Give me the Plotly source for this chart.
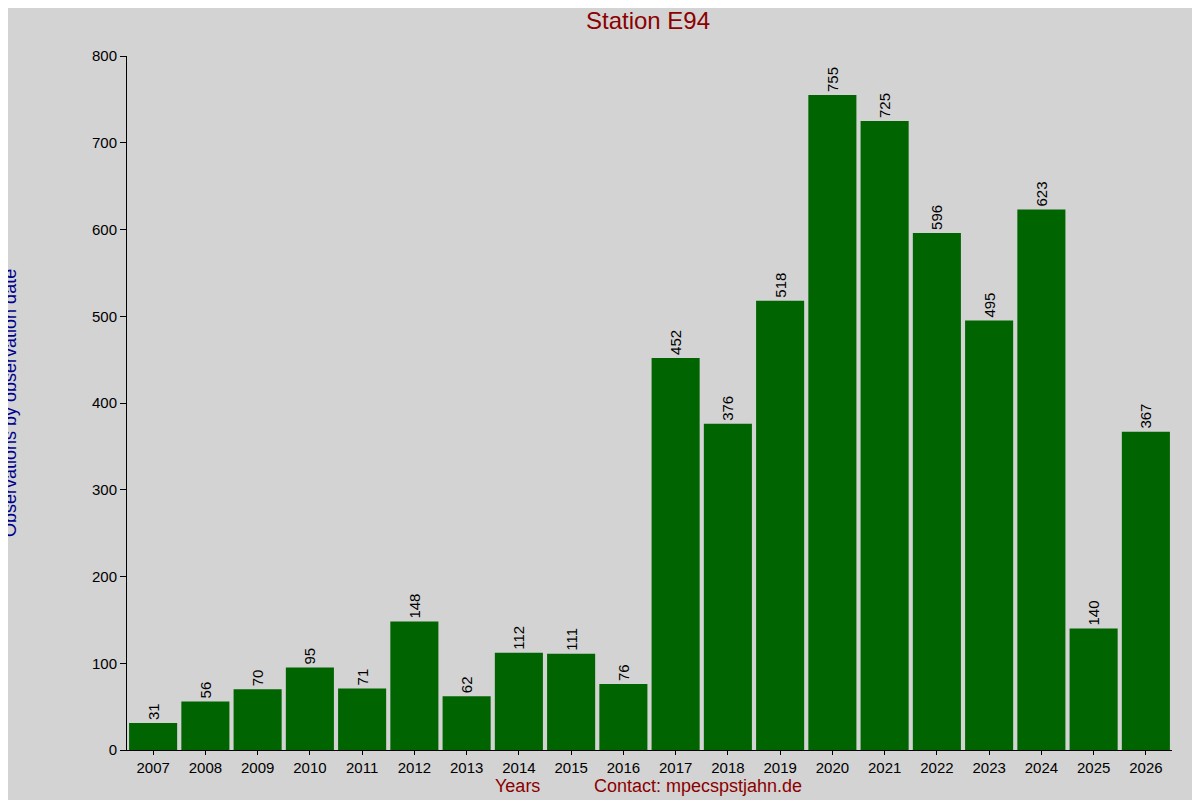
import plotly.graph_objects as go

years = [str(y) for y in range(2007, 2027)]
counts = [31, 56, 70, 95, 71, 148, 62, 112, 111, 76, 452, 376, 518, 755, 725, 596, 495, 623, 140, 367]

fig = go.Figure()
fig.add_trace(go.Bar(x=years, y=counts, marker=dict(color="#006400", line=dict(width=0)),
                     text=[str(c) + " " for c in counts], textposition="outside", textangle=-90,
                     textfont=dict(color="black", size=15), cliponaxis=False))

L, R, T, B = 119, 36, 48, 58
fig.update_layout(
    width=1200, height=800, paper_bgcolor="#d3d3d3", plot_bgcolor="#d3d3d3",
    font=dict(family="Liberation Sans, Arial", color="black", size=15),
    margin=dict(l=L, r=R, t=T, b=B), bargap=0.08, showlegend=False,
    title=dict(text="Station E94", x=(648 - 8) / 1200, xanchor="center", y=0.995, yanchor="top",
               font=dict(color="#8b0000", size=24)),
    xaxis=dict(showline=True, linecolor="black", ticks="outside", ticklen=4, tickcolor="black",
               showgrid=False, tickfont=dict(size=15)),
    yaxis=dict(range=[0, 800], dtick=100, showline=True, linecolor="black", ticks="outside",
               ticklen=6, tickcolor="black", showgrid=False, zeroline=False, tickfont=dict(size=15)),
)
pw = 1200 - L - R
fig.add_annotation(text="Observations by observation date", x=(2 - L) / pw, xref="paper",
                   xanchor="center", y=0.5, yref="paper", textangle=-90, showarrow=False,
                   font=dict(color="#00008b", size=18))
fig.add_annotation(text="Years", x=(509 - L) / pw, xref="paper", showarrow=False, y=0,
                   yref="paper", yanchor="middle", yshift=-36, font=dict(color="#8b0000", size=18))
fig.add_annotation(text="Contact: mpecspstjahn.de", x=(690 - L) / pw, xref="paper", showarrow=False,
                   y=0, yref="paper", yanchor="middle", yshift=-36, font=dict(color="#8b0000", size=18))
fig.write_html("out.html")
